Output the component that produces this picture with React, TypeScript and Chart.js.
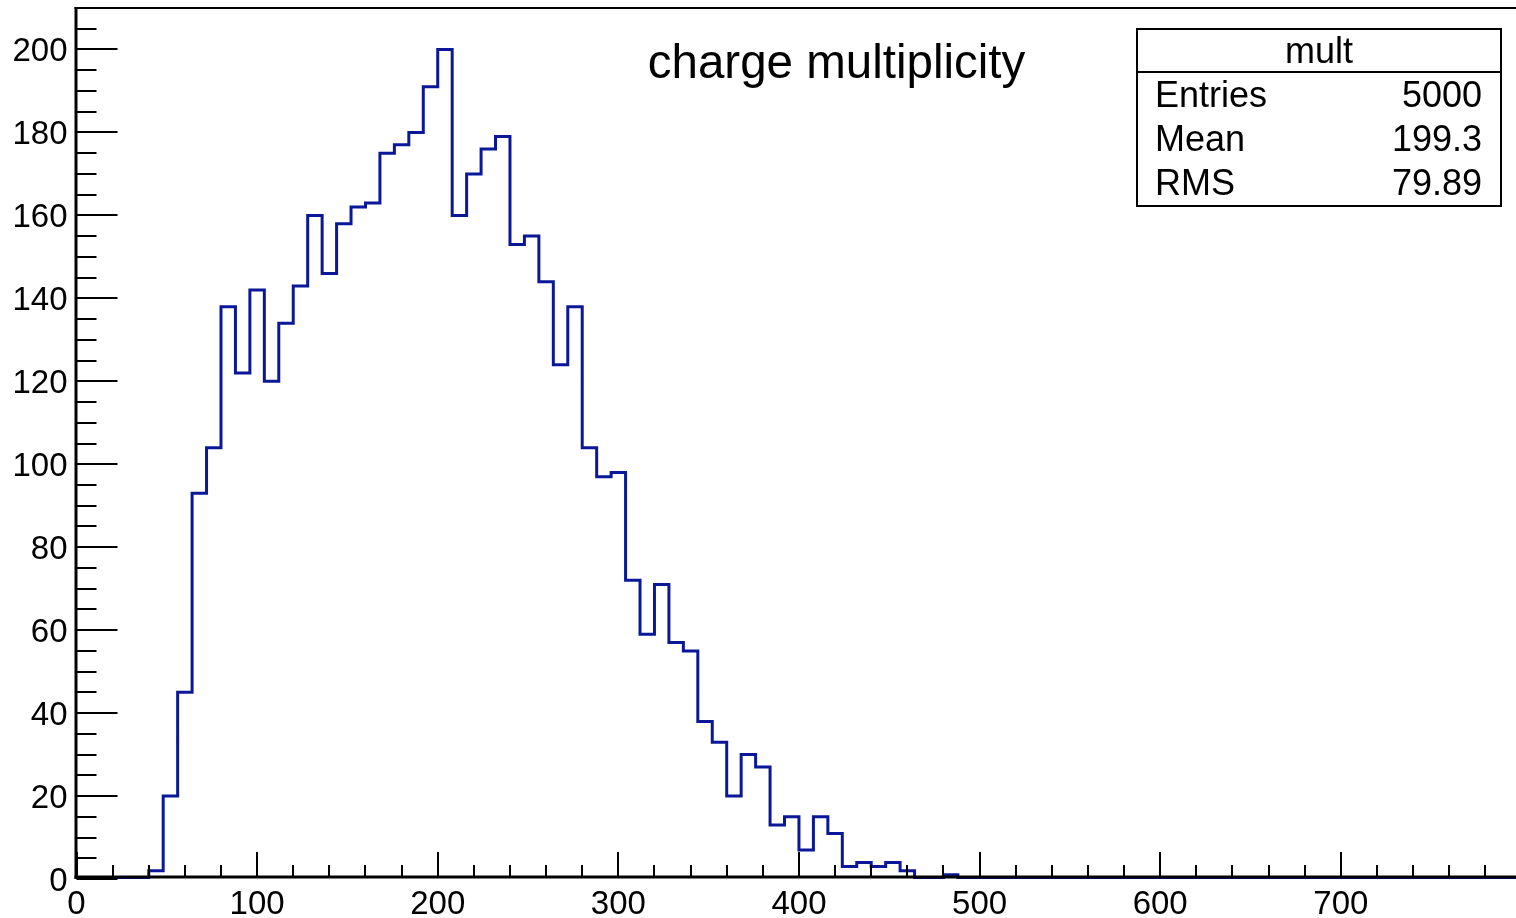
import React, { useEffect, useRef } from "react";
import { Chart, registerables } from "chart.js";

Chart.register(...registerables);

// ---- data ----
const binLow = 0;
const binWidth = 8;
const counts = [
  0, 0, 0, 0, 0, 2, 20, 45, 93, 104,
  138, 122, 142, 120, 134, 143, 160, 146, 158, 162,
  163, 175, 177, 180, 191, 200, 160, 170, 176, 179,
  153, 155, 144, 124, 138, 104, 97, 98, 72, 59,
  71, 57, 55, 38, 33, 20, 30, 27, 13, 15,
  7, 15, 11, 3, 4, 3, 4, 2, 0, 0,
  1, 0, 0, 0, 0, 0, 0, 0, 0, 0,
  0, 0, 0, 0, 0, 0, 0, 0, 0, 0,
  0, 0, 0, 0, 0, 0, 0, 0, 0, 0,
  0, 0, 0, 0, 0, 0, 0, 0, 0, 0,
];
const xRange = [0, 797];
const yRange = [0, 210];
const xMajorStep = 100;
const xMinorStep = 20;
const yMajorStep = 20;
const yMinorStep = 5;
const xTickLabels = ["0", "100", "200", "300", "400", "500", "600", "700"];
const yTickLabels = ["0", "20", "40", "60", "80", "100", "120", "140", "160", "180", "200"];
const titleText = "charge multiplicity";
const statsTitle = "mult";
const statsLabels = ["Entries", "Mean", "RMS"];
const statsValues = ["5000", "199.3", "79.89"];

const FONT = '"Liberation Sans", Arial, Helvetica, sans-serif';
const LINE_COLOR = "#0a1898";

const rootStylePlugin = {
  id: "rootStyle",
  afterDatasetsDraw(chart: any) {
    const { ctx, chartArea: a, scales } = chart;
    const x = scales.x;
    const y = scales.y;
    ctx.save();
    ctx.strokeStyle = "#000";
    ctx.lineCap = "butt";

    // y ticks (inside)
    ctx.lineWidth = 2;
    for (let v = yRange[0]; v <= yRange[1] + 1e-6; v += yMinorStep) {
      const py = Math.round(y.getPixelForValue(v));
      const major = Math.abs(v % yMajorStep) < 1e-6;
      const len = major ? 41 : 20;
      ctx.beginPath();
      ctx.moveTo(a.left, py);
      ctx.lineTo(a.left + len, py);
      ctx.stroke();
    }
    // x ticks (inside)
    for (let v = xRange[0]; v <= xRange[1] + 1e-6; v += xMinorStep) {
      const px = Math.round(x.getPixelForValue(v));
      const major = Math.abs(v % xMajorStep) < 1e-6;
      const len = major ? 25 : 12;
      ctx.beginPath();
      ctx.moveTo(px, a.bottom - 2);
      ctx.lineTo(px, a.bottom - 2 - len);
      ctx.stroke();
    }
    // axis lines
    ctx.lineWidth = 3;
    ctx.beginPath();
    ctx.moveTo(a.left - 0.5, a.top - 1);
    ctx.lineTo(a.left - 0.5, a.bottom);
    ctx.stroke();
    ctx.beginPath();
    ctx.moveTo(a.left - 2, a.bottom - 2);
    ctx.lineTo(a.right, a.bottom - 2);
    ctx.stroke();
    // top frame
    ctx.lineWidth = 2;
    ctx.beginPath();
    ctx.moveTo(a.left - 2, a.top);
    ctx.lineTo(a.right, a.top);
    ctx.stroke();

    // tick labels
    ctx.fillStyle = "#000";
    ctx.font = `33px ${FONT}`;
    ctx.textBaseline = "alphabetic";
    ctx.textAlign = "right";
    yTickLabels.forEach((lab) => {
      const py = y.getPixelForValue(Number(lab));
      ctx.fillText(lab, a.left - 9, py + 12);
    });
    ctx.textAlign = "center";
    xTickLabels.forEach((lab) => {
      const px = x.getPixelForValue(Number(lab));
      ctx.fillText(lab, px, 914);
    });

    // title
    ctx.font = `47.5px ${FONT}`;
    ctx.textAlign = "center";
    ctx.fillText(titleText, 836.5, 78);

    // stats box
    const bx = 1137, by = 29, bw = 364, bh = 177, hy = 72;
    ctx.fillStyle = "#fff";
    ctx.fillRect(bx, by, bw, bh);
    ctx.lineWidth = 2;
    ctx.strokeStyle = "#000";
    ctx.strokeRect(bx, by, bw, bh);
    ctx.beginPath();
    ctx.moveTo(bx, hy);
    ctx.lineTo(bx + bw, hy);
    ctx.stroke();
    ctx.fillStyle = "#000";
    ctx.font = `36px ${FONT}`;
    ctx.textAlign = "center";
    ctx.fillText(statsTitle, bx + bw / 2, 63);
    const baselines = [107, 151, 195];
    statsLabels.forEach((lab, i) => {
      ctx.textAlign = "left";
      ctx.fillText(lab, 1155, baselines[i]);
      ctx.textAlign = "right";
      ctx.fillText(statsValues[i], 1482, baselines[i]);
    });
    ctx.restore();
  },
};

export default function App() {
  const canvasRef = useRef<HTMLCanvasElement | null>(null);

  useEffect(() => {
    document.body.style.margin = "0";
    const canvas = canvasRef.current;
    if (!canvas) return;
    const points = counts.map((c, i) => ({ x: binLow + i * binWidth, y: c }));
    points.push({ x: binLow + counts.length * binWidth, y: counts[counts.length - 1] });

    const chart = new Chart(canvas, {
      type: "line",
      data: {
        datasets: [
          {
            label: statsTitle,
            data: points,
            stepped: true,
            borderColor: LINE_COLOR,
            borderWidth: 3,
            pointRadius: 0,
            fill: false,
            tension: 0,
          },
        ],
      },
      options: {
        animation: false,
        responsive: false,
        maintainAspectRatio: false,
        layout: { padding: { top: 8, right: 0, left: 0, bottom: 0 } },
        plugins: {
          legend: { display: false },
          tooltip: { enabled: false },
          title: { display: false },
        },
        scales: {
          x: {
            type: "linear",
            min: xRange[0],
            max: xRange[1],
            grid: { display: false },
            border: { display: false },
            ticks: { display: false, stepSize: xMajorStep },
            afterFit: (scale: any) => {
              scale.height = 39;
            },
          },
          y: {
            type: "linear",
            min: yRange[0],
            max: yRange[1],
            grid: { display: false },
            border: { display: false },
            ticks: { display: false, stepSize: yMajorStep },
            afterFit: (scale: any) => {
              scale.width = 76.5;
            },
          },
        },
      },
      plugins: [rootStylePlugin],
    });
    return () => chart.destroy();
  }, []);

  return (
    <div
      style={{
        position: "absolute",
        left: 0,
        top: 0,
        width: 1516,
        height: 918,
        overflow: "hidden",
        background: "#fff",
      }}
    >
      <canvas ref={canvasRef} width={1516} height={918} style={{ width: 1516, height: 918 }} />
    </div>
  );
}
